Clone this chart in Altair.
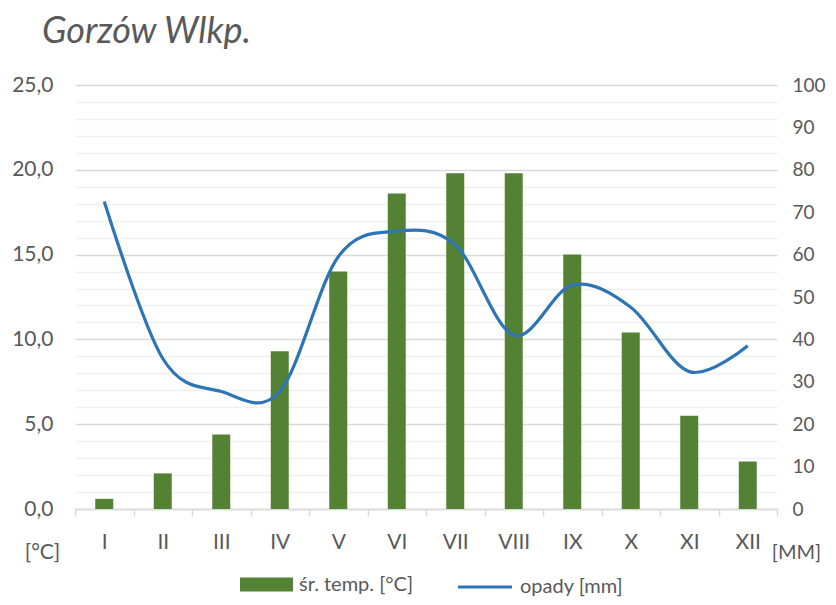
import altair as alt
import pandas as pd

months = ["I", "II", "III", "IV", "V", "VI", "VII", "VIII", "IX", "X", "XI", "XII"]
temp = [0.6, 2.1, 4.4, 9.3, 14.0, 18.6, 19.8, 19.8, 15.0, 10.4, 5.5, 2.8]
precip = [72.5, 35.5, 27.7, 27.7, 59.5, 65.5, 62.3, 41.0, 52.8, 47.6, 32.4, 38.5]
temp_ticks = list(range(0, 26))
precip_ticks = list(range(0, 101, 10))

S_TEMP = "śr. temp. [°C]"
S_RAIN = "opady [mm]"
GREEN = "#548235"
BLUE = "#2E75B6"
TXT = "#595959"
FONT = "Lato"

df = pd.DataFrame({"m": months, "t": temp, "p": precip,
                   "s1": [S_TEMP] * 12, "s2": [S_RAIN] * 12})

x = alt.X("m:N", sort=months, title=None,
          scale=alt.Scale(paddingInner=0, paddingOuter=0),
          axis=alt.Axis(labelAngle=0, tickBand="extent", tickSize=7,
                        tickColor="#d9d9d9", domainColor="#d9d9d9", domainWidth=1.5,
                        tickWidth=1.5, labelPadding=15, labelFontSize=21,
                        labelFont=FONT, labelColor=TXT, grid=False))

bars = alt.Chart(df).mark_bar(size=18).encode(
    x=x,
    y=alt.Y("t:Q", scale=alt.Scale(domain=[0, 25], nice=False, zero=True),
            axis=alt.Axis(values=temp_ticks, ticks=False, domain=False,
                          labelExpr="datum.value % 5 === 0 ? replace(format(datum.value, '.1f'), '.', ',') : ''",
                          labelFontSize=21, labelFont=FONT, labelColor=TXT, labelPadding=22,
                          grid=True,
                          gridColor=alt.condition("datum.value % 5 === 0", alt.value("#d9d9d9"), alt.value("#f0f0f0")),
                          gridWidth=1.5,
                          title="[°C]", titleAngle=0, titleX=-33, titleY=473,
                          titleAlign="center", titleBaseline="alphabetic",
                          titleFont=FONT, titleFontSize=21, titleFontWeight="normal",
                          titleColor=TXT)),
    fill=alt.Fill("s1:N", scale=alt.Scale(domain=[S_TEMP], range=[GREEN]),
                  legend=alt.Legend(title=None, orient="none", legendX=165, legendY=473,
                                    symbolType="M-1,-0.26L1,-0.26L1,0.26L-1,0.26Z",
                                    symbolSize=2809, symbolStrokeWidth=0,
                                    labelFont=FONT, labelFontSize=20, labelColor=TXT,
                                    labelOffset=6, padding=0))
)

line = alt.Chart(df).mark_line(strokeWidth=3.2, interpolate="cardinal", tension=0).encode(
    x=x,
    y=alt.Y("p:Q", scale=alt.Scale(domain=[0, 100], nice=False, zero=True),
            axis=alt.Axis(orient="right", values=precip_ticks, ticks=False, domain=False,
                          grid=False, labelFontSize=19, labelFont=FONT, labelColor=TXT,
                          labelPadding=15,
                          title="[MM]", titleAngle=0, titleX=19, titleY=473,
                          titleAlign="center", titleBaseline="alphabetic",
                          titleFont=FONT, titleFontSize=20, titleFontWeight="normal",
                          titleColor=TXT)),
    stroke=alt.Stroke("s2:N", scale=alt.Scale(domain=[S_RAIN], range=[BLUE]),
                      legend=alt.Legend(title=None, orient="none", legendX=381, legendY=473,
                                        symbolType="stroke", symbolSize=2916,
                                        symbolStrokeWidth=3.2,
                                        labelFont=FONT, labelFontSize=20, labelColor=TXT,
                                        labelOffset=6, padding=0))
)

chart = alt.layer(bars, line).resolve_scale(y="independent", fill="independent", stroke="independent").properties(
    width=702, height=424,
    autosize=alt.AutoSizeParams(type="none"),
    padding={"left": 67, "top": 77, "right": 51, "bottom": 88},
    title=alt.TitleParams("Gorzów Wlkp.", anchor="start", frame="group",
                          fontSize=36, fontStyle="italic", fontWeight="normal",
                          font=FONT, color=TXT, baseline="alphabetic", dx=-33, dy=36, offset=31),
).configure_view(stroke=None)

chart.save("out.html", embed_options={"renderer": "svg", "actions": False})
